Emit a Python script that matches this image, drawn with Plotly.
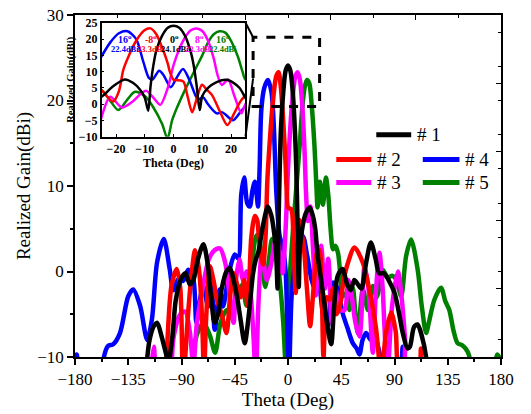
import plotly.graph_objects as go

# ---------------- main-plot data (theta in deg, realized gain in dBi) ----------------
theta1 = [-180, -126, -121, -117, -113, -110.5, -107, -104, -101, -98, -95, -92, -89.5, -86.5, -83, -80, -76, -71.5, -68, -65, -62, -59, -56, -52, -49, -46, -43, -40, -36.6, -33, -29.5, -27, -25, -21, -17, -14, -11.7, -10, -8.8, -8, -7, -6, -4, -2, 0, 2, 4, 6, 7, 8, 9.1, 10, 12, 15, 18.4, 21, 23, 25, 28, 31, 34, 36.5, 39, 42, 46, 50, 53, 56, 59, 62, 66, 70, 74, 77, 81, 85, 90, 94, 97, 101, 103, 106.5, 109.5, 113, 116.7, 119, 180]
gain1 = [-20, -20, -13, -8, -6.3, -6, -7.5, -9.1, -10.5, -8, -3.5, -1.5, -0.6, -0.2, -1.5, -1, 1.5, 3.2, 1, -3, -6, -5, -2, 0, 0.4, -1, -3, -5.7, -8.4, -4.9, -0.2, 1.5, 2.3, 5.5, 7.6, 6.5, 4.5, 2, -2, 5.5, 12, 16.5, 21, 23.5, 24.1, 23.5, 21, 16, 12, 6, -1.8, 2.5, 5, 6.8, 7.5, 6.5, 5, 2, -1, -4, -7, -8.5, -4, -0.5, 0.3, -1.5, -2.2, -1, -1.5, -2, 1, 3.4, 1.5, -0.2, -0.2, -1, -2.5, -5, -7.2, -9, -8.8, -6.5, -6.2, -7.5, -10, -15, -20]

theta2 = [-180, -108, -102.7, -98.5, -94, -91, -88.6, -85, -82, -78.5, -75, -72.5, -71, -69, -66, -63, -60, -56, -52, -49, -46, -43, -40, -37, -34, -31, -28, -26, -24.5, -21, -19, -17.5, -16, -13, -10, -8, -6, -4, -2, -1.3, 0, 1.1, 2.5, 3.5, 5, 6.5, 8, 9.9, 11.5, 13.4, 16, 18.7, 21, 23, 24.6, 26.5, 28.5, 30, 33, 35.2, 38, 41, 44, 47, 50.6, 56.2, 63.3, 70, 74.5, 78.7, 83, 87.2, 91, 95, 110, 112.4, 115, 180]
gain2 = [-20, -20, -10, -1.7, 0.3, -2, -13, -6, -1, 2.5, 0, -6, -12, -5, 0.6, -1, -3.3, -5, -7.2, -3, -0.2, -1.5, -3, -1, -4, 4, 6.5, 6, 3.8, 0.8, 4, 10.5, 14, 19.5, 22.8, 23.3, 21.5, 17.5, 12.5, 10, 7.5, 7.4, 7.3, 6.9, 2, -2.5, 1.5, 6, 4.5, 2.8, -2, -6.4, -3, 0.5, 2.3, 2.5, -2, -10, -3, -3.3, -2, -5, -4, -1, 1, 2.8, 1, -3, -6.8, -12, -7, -4.8, -7, -12, -12, -9, -12, -20]

theta3 = [-180, -118, -116, -113.4, -111, -100, -98, -96.6, -91, -86.8, -83, -80, -77, -72.8, -67, -62, -57.4, -53, -50, -46, -44, -41, -38, -35, -32, -29, -27.3, -25, -22, -18, -14, -11, -9.4, -7, -4.6, -2, 0, 2, 4, 6, 8, 10, 12, 14, 15.3, 16.8, 19, 21, 23.6, 25, 28, 31, 34, 37, 40, 44, 47.8, 51, 54, 57, 60.4, 64.7, 68, 71.7, 74, 77.3, 80, 81.5, 84, 88, 92.8, 96, 99, 101.2, 180]
gain3 = [-20, -20, -12, -8.8, -12, -15, -10, -7.6, -5, -4.7, -7, -11, -6, -2.5, 1.4, 2.5, 2.7, 1, -2, -6, -1, 1.4, -1, 0, -2, -8, -13, -3.8, 2.3, -1, 1, 3.5, 4.1, 2, -0.2, 5, 12, 17, 20.5, 22.7, 23.3, 22.5, 19.5, 14, 9, 5.9, 7.6, 3, -2.8, 0, 3, -2, 1.5, -6, -2, -4.5, -4.5, -1, -3, -6, -7.6, 0.6, -2, -9.5, -3, 2.2, -2, -6.4, -12, -4, 0, -3, -8, -12, -20]

theta4 = [-180, -178.6, -176.5, -160, -156, -152, -147.7, -142, -135, -130.8, -125, -119, -115, -110.6, -105, -100, -97, -92.8, -88.6, -84.4, -80, -77.4, -74, -71.7, -67.5, -64.7, -61.9, -57.7, -54.9, -52, -49.3, -45, -42, -39.5, -37, -34.5, -32.3, -30, -28, -26.5, -25.3, -24, -22.5, -20, -16.9, -14, -12, -9.8, -7, -4.5, -2, 0.8, 3, 6, 9, 12.6, 16, 20, 23, 26, 29.5, 33.7, 38, 42, 46, 50, 54.8, 58, 60.4, 63, 66, 70, 73, 77.3, 80, 94, 97, 100, 180]
gain4 = [-10.5, -9.7, -12, -20, -10.3, -8.7, -8.5, -7.2, -2.9, -2.1, -4, -8, -5.6, 1.1, 3.8, 0.3, -2.2, -0.9, -1.1, 0.2, -0.9, -6, -3, -1.7, -4.1, -1.7, -6.8, -2.1, -4.1, -2, 0.2, 2, 1.5, 9, 11, 8, 7.6, 9.5, 10.5, 9, 7.6, 12, 19, 21.5, 22.4, 21, 17, 9.1, 4.1, 3, 0, -12, -3, 1, 3.5, 4.1, 2, -1, -2.1, -1.5, -4.9, -6.4, -1.3, -2, -4.8, -6.5, -8.4, -9, -9.7, -8, -7.2, -8, -7.5, -9.5, -12, -12, -8.8, -12, -20]

theta5 = [-180, -103, -101, -99.4, -97.5, -83, -81, -76, -71.4, -66, -61.6, -57, -51.8, -47.6, -43, -39, -35, -31, -27, -25, -22, -19.2, -16, -13.4, -10, -7, -4, -2.1, -0.5, 1, 4, 6, 8, 10, 12, 14, 16, 18, 20, 22.4, 24, 25, 27, 29.5, 32, 34, 36, 38, 40, 42.2, 44, 46.4, 49.2, 52, 54.8, 57, 59, 63.3, 67.5, 71.7, 75, 77, 80.1, 84.3, 88, 91.4, 95.6, 99.8, 104, 109.6, 113, 116.7, 119, 123.7, 129.3, 133, 136.3, 140, 143.4, 147, 150, 153, 155, 165, 174, 177, 180]
gain5 = [-20, -15, -10, -8.8, -10.5, -13, -10, -7, -6, -7.5, -9.5, -6, -4.5, -5.4, -3, -1.6, -4, 0, 4.1, 4.3, 1, -1.8, 1.5, 3.8, 2.5, -1, -6, -10.5, -5, -1.5, 4.4, 8, 11.5, 15, 19, 21.5, 22.4, 22, 19.5, 14.6, 10, 7.5, 10.5, 7.8, 11, 9, 5, 2.6, 3, 2.2, 0, -2.9, -2.5, -4.5, -1.9, -5, -7.2, -2.1, -4.5, -1.7, -3, -2, 0.2, -0.7, -0.5, -0.9, -2.9, 1.8, 3.75, 0.2, -4, -7.2, -6, -3.3, -1.9, -3.5, -4.5, -7, -8.4, -8.6, -9, -9.8, -12, -20, -12, -9.7, -10.5]

# ---------------- inset data (zoomed view, -25..25 deg) ----------------
ith1 = [-27, -25, -21, -17, -14, -11.7, -10, -8.8, -8, -7, -6, -4, -2, 0, 2, 4, 6, 7, 8, 9.1, 10, 12, 15, 18.4, 21, 23, 25, 27]
ig1 = [1.5, 2.3, 5.5, 7.6, 6.5, 4.5, 2, -2, 5.5, 12, 16.5, 21, 23.5, 24.1, 23.5, 21, 16, 12, 6, -1.8, 2.5, 5, 6.8, 7.5, 6.5, 5, 2, -0.5]
ith2 = [-27, -24.5, -21, -19, -17.5, -16, -13, -10, -8, -6, -4, -2, -1.3, 0, 1.1, 2.5, 3.5, 5, 6.5, 8, 9.9, 11.5, 13.4, 16, 18.7, 21, 23, 24.6, 26]
ig2 = [6, 3.8, 0.8, 4, 10.5, 14, 19.5, 22.8, 23.3, 21.5, 17.5, 12.5, 10, 7.5, 7.4, 7.3, 6.9, 2, -2.5, 1.5, 6, 4.5, 2.8, -2, -6.4, -3, 0.5, 2.3, 3]
ith3 = [-27.3, -25, -22, -18, -14, -11, -9.4, -7, -4.6, -2, 0, 2, 4, 6, 8, 10, 12, 14, 15.3, 16.8, 19, 21, 23.6, 25, 27]
ig3 = [-13, -3.8, 2.3, -1, 1, 3.5, 4.1, 2, -0.2, 5, 12, 17, 20.5, 22.7, 23.3, 22.5, 19.5, 14, 9, 5.9, 7.6, 3, -2.8, 0, 2]
ith4 = [-27, -25, -22, -19, -16, -13, -10.5, -8.5, -7.3, -5, -3.5, -1, 1, 3.3, 5.5, 8.5, 10.3, 12, 15, 17, 20.7, 23.6, 25, 27]
ig4 = [12, 14.8, 19, 21.8, 22.4, 20, 13, 8, 7.6, 10.3, 9, 5.2, 8, 10.8, 7.5, 1.5, 2.1, 0, -2.8, -2.5, -4.9, -2, -0.8, -1.5]
ith5 = [-27, -25, -22, -19.2, -16, -13.4, -10, -7, -4, -2.1, -0.5, 1, 4, 6, 8, 10, 12, 14, 16, 18, 20, 22.4, 24, 25, 27]
ig5 = [4.1, 4.3, 1, -1.8, 1.5, 3.8, 2.5, -1, -6, -10.5, -5, -1.5, 4.4, 8, 11.5, 15, 19, 21.5, 22.4, 22, 19.5, 14.6, 10, 7.5, 10.5]

series_names = ["# 1", "# 2", "# 3", "# 4", "# 5"]
series_colors = ["#000000", "#ff0000", "#ff00ff", "#0000ff", "#008000"]
thetas = [theta1, theta2, theta3, theta4, theta5]
gains = [gain1, gain2, gain3, gain4, gain5]
inset_thetas = [ith1, ith2, ith3, ith4, ith5]
inset_gains = [ig1, ig2, ig3, ig4, ig5]

x_ticks = [-180, -135, -90, -45, 0, 45, 90, 135, 180]
y_ticks = [-10, 0, 10, 20, 30]
inset_x_ticks = [-20, -10, 0, 10, 20]
inset_y_ticks = [-10, -5, 0, 5, 10, 15, 20, 25]

peak_labels = [(-16.9, "16<sup>o</sup>", "22.4dBi", 3), (-8, "-8<sup>o</sup>", "23.3dBi", 1),
               (0.4, "0<sup>o</sup>", "24.1dBi", 0), (8.9, "8<sup>o</sup>", "23.3dBi", 2),
               (17.3, "16<sup>o</sup>", "22.4dBi", 4)]

FONT = "Liberation Serif"
fig = go.Figure()

order = [4, 3, 2, 1, 0]
for i in order:
    fig.add_trace(go.Scatter(x=thetas[i], y=gains[i], mode="lines",
                             line=dict(color=series_colors[i], width=4.5, shape="spline", smoothing=0.8),
                             showlegend=False, hoverinfo="skip", xaxis="x", yaxis="y"))
for i in order:
    fig.add_trace(go.Scatter(x=inset_thetas[i], y=inset_gains[i], mode="lines",
                             line=dict(color=series_colors[i], width=2.5, shape="spline", smoothing=0.8),
                             showlegend=False, hoverinfo="skip", xaxis="x3", yaxis="y3"))
fig.add_trace(go.Scatter(x=[None], y=[None], xaxis="x2", yaxis="y2", showlegend=False, hoverinfo="skip"))

axis_common = dict(showgrid=False, zeroline=False, showline=True, linecolor="black", linewidth=1.5,
                   automargin=False)

fig.update_layout(
    width=531, height=414,
    margin=dict(l=75, r=30, t=15, b=57),
    paper_bgcolor="white", plot_bgcolor="white",
    font=dict(family=FONT, color="black"),
    xaxis=dict(domain=[0, 1], range=[-180, 180], tickvals=x_ticks, ticks="outside", ticklen=6,
               tickwidth=1.5, tickcolor="black", minor=dict(dtick=22.5, ticks="outside", ticklen=3, tickcolor="black"),
               tickfont=dict(size=17, family=FONT), anchor="y",
               title=dict(text="Theta (Deg)", font=dict(size=19, family=FONT), standoff=3), **axis_common),
    yaxis=dict(domain=[0, 1], range=[-10, 30], tickvals=y_ticks, ticks="outside", ticklen=6,
               tickwidth=1.5, tickcolor="black", minor=dict(dtick=5, ticks="outside", ticklen=3, tickcolor="black"),
               tickfont=dict(size=17, family=FONT), anchor="x",
               title=dict(text="Realized Gain(dBi)", font=dict(size=19, family=FONT), standoff=2), **axis_common),
    xaxis2=dict(overlaying="x", side="top", anchor="y", range=[-180, 180], dtick=72, tick0=-180,
                ticks="inside", ticklen=5, tickcolor="black", showticklabels=False,
                minor=dict(dtick=36, ticks="inside", ticklen=3, tickcolor="black"), **axis_common),
    yaxis2=dict(overlaying="y", side="right", anchor="x", range=[-10, 30], dtick=8, tick0=-10,
                ticks="inside", ticklen=5, tickcolor="black", showticklabels=False,
                minor=dict(dtick=4, ticks="inside", ticklen=3, tickcolor="black"), **axis_common),
    xaxis3=dict(domain=[0.0626, 0.400], anchor="y3", range=[-25, 25], tickvals=inset_x_ticks,
                ticks="inside", ticklen=3, tickcolor="black", mirror=True,
                tickfont=dict(size=12, family=FONT, weight="bold"),
                title=dict(text="Theta (Deg)", font=dict(size=12, family=FONT, weight="bold"), standoff=0),
                **axis_common),
    yaxis3=dict(domain=[0.644, 0.977], anchor="x3", range=[-10, 25], tickvals=inset_y_ticks,
                ticks="inside", ticklen=3, tickcolor="black", mirror=True,
                tickfont=dict(size=12, family=FONT, weight="bold"),
                title=dict(text="Realized Gain(dBi)", font=dict(size=10.5, family=FONT, weight="bold"), standoff=2),
                **axis_common),
)

# dashed zoom box and connector lines
fig.add_shape(type="rect", xref="x", yref="y", x0=-29.5, x1=26.7, y0=19.3, y1=27.4,
              line=dict(color="black", width=3, dash="dash"))
fig.add_shape(type="line", xref="x", yref="y", x0=-35.9, y0=29.1, x1=-29.5, y1=27.4,
              line=dict(color="black", width=2))
fig.add_shape(type="line", xref="x", yref="y", x0=-35.9, y0=15.8, x1=-29.5, y1=22.6,
              line=dict(color="black", width=2))

for th, t1, t2, ci in peak_labels:
    fig.add_annotation(x=th, y=20.0, xref="x3", yref="y3", text=t1, showarrow=False,
                       font=dict(size=10, family=FONT, weight="bold", color=series_colors[ci]))
    fig.add_annotation(x=th, y=16.9, xref="x3", yref="y3", text=t2, showarrow=False,
                       font=dict(size=8.5, family=FONT, weight="bold", color=series_colors[ci]))

# manual legend (line start, line end in theta units, row level in dBi)
legend_rows = [(0, 74.6, 104.1, 16.0), (1, 40.8, 70.4, 13.1), (3, 113.9, 144.9, 13.1),
               (2, 40.8, 70.4, 10.4), (4, 113.9, 144.9, 10.4)]
for ci, xa, xb, yy in legend_rows:
    fig.add_shape(type="line", xref="x", yref="y", x0=xa, x1=xb, y0=yy, y1=yy,
                  line=dict(color=series_colors[ci], width=5))
    fig.add_annotation(x=xb + 3, y=yy, xref="x", yref="y", text=series_names[ci], showarrow=False,
                       xanchor="left", font=dict(size=19, family=FONT, color="black"))

fig.write_html("out.html", config={"displayModeBar": False},
               post_script="document.body.style.margin='0';document.body.style.overflow='hidden';")
